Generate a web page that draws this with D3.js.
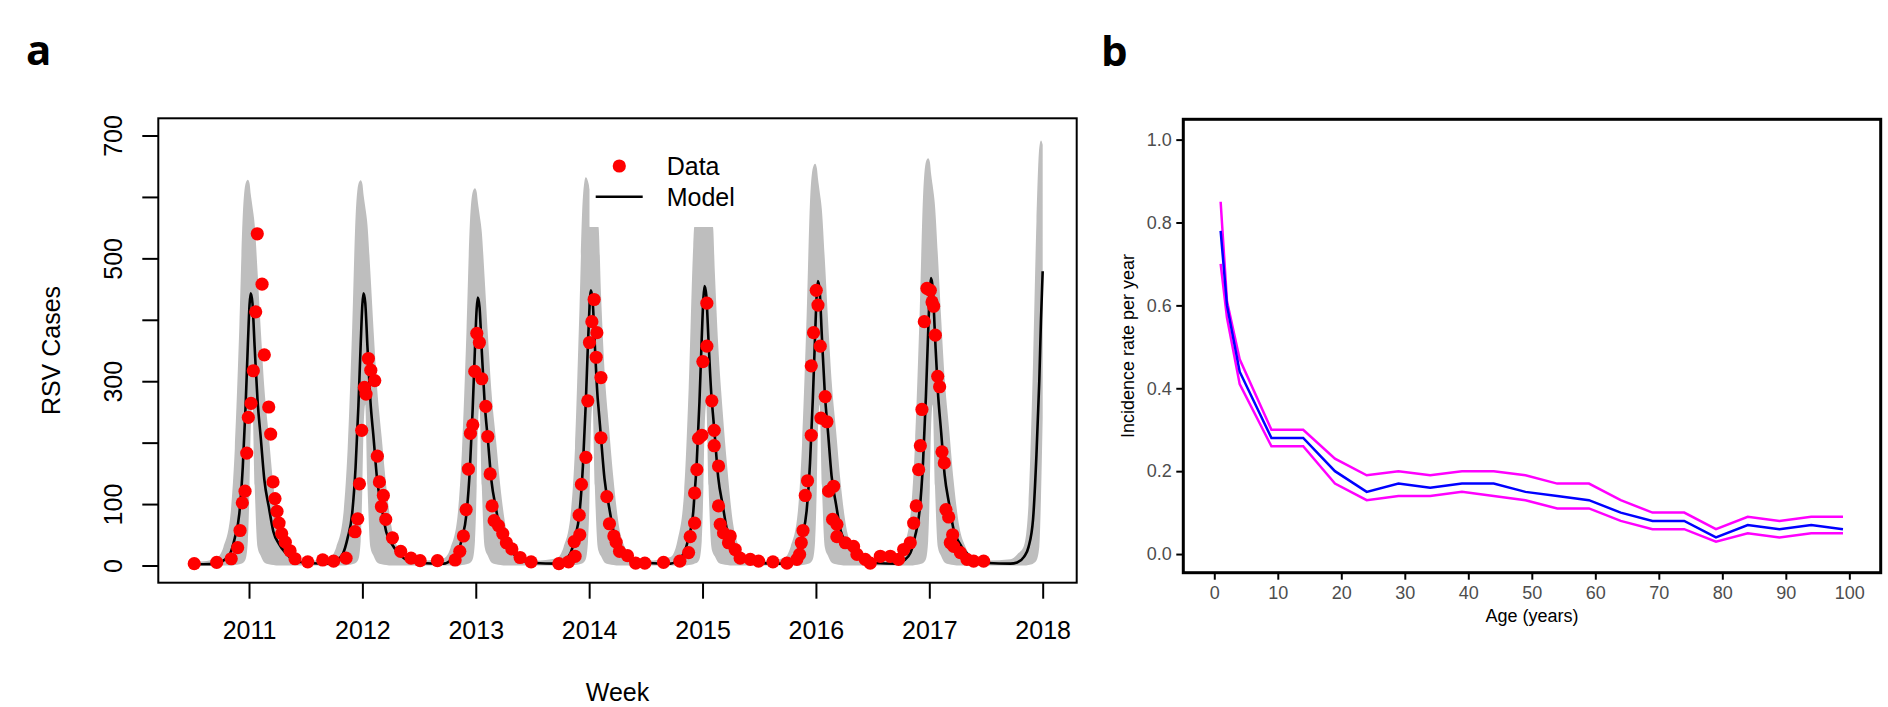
<!DOCTYPE html>
<html><head><meta charset="utf-8">
<script src="https://cdn.jsdelivr.net/npm/d3@7"></script>
<style>
html,body{margin:0;padding:0;background:#fff;}
svg{display:block;}
</style></head><body>
<svg id="chart" width="1888" height="707"></svg>
<script>
// ---------------- Panel a data ----------------
const yearTicks = [2011, 2012, 2013, 2014, 2015, 2016, 2017, 2018];
const caseTicks = [0, 100, 200, 300, 400, 500, 600, 700];
const caseTickLabels = [0, 100, 300, 500, 700];

// model time grid (decimal years)
const modelT = [
  2010.51, 2010.60, 2010.715, 2010.775, 2010.835, 2010.875, 2010.915, 2010.945, 2010.970, 2010.990, 2011.005, 2011.015, 2011.030, 2011.050, 2011.075, 2011.105, 2011.135, 2011.175, 2011.215, 2011.265, 2011.315, 2011.395, 2011.515,
  2011.710, 2011.770, 2011.830, 2011.870, 2011.910, 2011.940, 2011.965, 2011.985, 2012.000, 2012.010, 2012.025, 2012.045, 2012.070, 2012.100, 2012.130, 2012.170, 2012.210, 2012.260, 2012.310, 2012.390, 2012.510,
  2012.718, 2012.778, 2012.838, 2012.878, 2012.918, 2012.948, 2012.973, 2012.993, 2013.008, 2013.018, 2013.033, 2013.053, 2013.078, 2013.108, 2013.138, 2013.178, 2013.218, 2013.268, 2013.318, 2013.398, 2013.518,
  2013.715, 2013.775, 2013.835, 2013.875, 2013.915, 2013.945, 2013.970, 2013.990, 2014.003, 2014.005, 2014.015, 2014.030, 2014.050, 2014.075, 2014.082, 2014.105, 2014.135, 2014.175, 2014.215, 2014.265, 2014.315, 2014.395, 2014.515,
  2014.718, 2014.778, 2014.838, 2014.878, 2014.918, 2014.927, 2014.948, 2014.973, 2014.993, 2015.008, 2015.018, 2015.033, 2015.053, 2015.078, 2015.092, 2015.108, 2015.138, 2015.178, 2015.218, 2015.268, 2015.318, 2015.398, 2015.518,
  2015.718, 2015.778, 2015.838, 2015.878, 2015.918, 2015.948, 2015.973, 2015.993, 2016.008, 2016.018, 2016.033, 2016.053, 2016.078, 2016.108, 2016.138, 2016.178, 2016.218, 2016.268, 2016.318, 2016.398, 2016.518,
  2016.715, 2016.775, 2016.835, 2016.875, 2016.915, 2016.945, 2016.970, 2016.990, 2017.005, 2017.015, 2017.030, 2017.050, 2017.075, 2017.105, 2017.135, 2017.175, 2017.215, 2017.265, 2017.315, 2017.395, 2017.515,
  2017.715, 2017.775, 2017.835, 2017.875, 2017.915, 2017.945, 2017.970, 2017.985, 2018.000
];
const modelCases = [
  2, 2, 3, 8, 20, 45, 85, 160, 260, 360, 425, 443, 428, 355, 270, 205, 140, 95, 55, 35, 22, 9, 4,
  3, 8, 20, 45, 85, 160, 260, 360, 425, 443, 428, 355, 270, 205, 140, 95, 55, 35, 22, 9, 4,
  3, 8, 20, 44, 84, 157, 256, 354, 418, 436, 421, 349, 266, 202, 138, 93, 54, 34, 22, 9, 4,
  3, 8, 20, 45, 86, 162, 263, 364, 420, 430, 448, 433, 359, 273, 258, 207, 142, 96, 56, 35, 22, 9, 4,
  3, 8, 21, 46, 87, 110, 164, 267, 370, 436, 455, 440, 365, 277, 246, 211, 144, 98, 56, 36, 23, 9, 4,
  3, 8, 21, 47, 89, 167, 272, 376, 444, 463, 447, 371, 282, 214, 146, 99, 57, 37, 23, 9, 4,
  3, 8, 21, 48, 90, 169, 275, 380, 449, 468, 452, 375, 285, 216, 148, 100, 58, 37, 23, 10, 4,
  3, 5, 14, 30, 75, 180, 300, 400, 479
];
const bandHigh = [
  6, 7, 12, 30, 80, 191, 390, 570, 622, 628, 622, 605, 585, 555, 480, 380, 290, 210, 130, 60, 30, 12, 8,
  12, 30, 80, 190, 388, 568, 621, 627, 621, 604, 584, 554, 479, 379, 289, 209, 130, 60, 30, 12, 8,
  12, 29, 78, 187, 381, 557, 608, 614, 608, 592, 572, 543, 469, 372, 284, 205, 127, 59, 29, 12, 8,
  12, 30, 80, 191, 420, 600, 632, 625, 612, 551, 551, 551, 551, 551, 551, 440, 320, 225, 140, 62, 30, 12, 8,
  14, 40, 120, 290, 520, 551, 551, 551, 551, 551, 551, 551, 551, 551, 551, 480, 360, 250, 160, 70, 32, 12, 8,
  12, 31, 83, 199, 406, 593, 647, 654, 647, 630, 609, 578, 500, 396, 302, 219, 135, 62, 31, 12, 8,
  13, 32, 84, 202, 412, 602, 657, 663, 657, 639, 618, 586, 507, 401, 306, 222, 137, 63, 32, 13, 8,
  10, 18, 32, 100, 330, 560, 680, 692, 685
];
const bandLow = [
  0, 0, 0, 0, 0, 1, 2, 4, 10, 40, 130, 220, 262, 130, 30, 15, 5, 2, 1, 0, 0, 0, 0,
  0, 0, 0, 1, 2, 4, 10, 40, 130, 220, 262, 130, 30, 15, 5, 2, 1, 0, 0, 0, 0,
  0, 0, 0, 1, 2, 4, 10, 40, 130, 220, 262, 130, 30, 15, 5, 2, 1, 0, 0, 0, 0,
  0, 0, 0, 1, 2, 4, 10, 40, 110, 130, 220, 262, 130, 30, 24, 15, 5, 2, 1, 0, 0, 0, 0,
  0, 0, 0, 1, 2, 3, 4, 10, 40, 130, 220, 262, 130, 30, 20, 15, 5, 2, 1, 0, 0, 0, 0,
  0, 0, 0, 1, 2, 4, 10, 40, 130, 220, 262, 130, 30, 15, 5, 2, 1, 0, 0, 0, 0,
  0, 0, 0, 1, 2, 4, 10, 40, 130, 220, 262, 130, 30, 15, 5, 2, 1, 0, 0, 0, 0,
  0, 0, 0, 1, 3, 8, 30, 110, 240
];

// observed weekly RSV cases
const dataT = [
  2010.517, 2010.715, 2010.843, 2010.900, 2010.921, 2010.941, 2010.965, 2010.980, 2010.994, 2011.018, 2011.038, 2011.059, 2011.073, 2011.115, 2011.135, 2011.174, 2011.191, 2011.212, 2011.229, 2011.247, 2011.265, 2011.288, 2011.320, 2011.362, 2011.406, 2011.518, 2011.650, 2011.746, 2011.856,
  2011.935, 2011.959, 2011.974, 2011.994, 2012.018, 2012.032, 2012.053, 2012.074, 2012.109, 2012.132, 2012.150, 2012.168, 2012.185, 2012.206, 2012.265, 2012.338, 2012.429, 2012.509, 2012.662, 2012.818,
  2012.859, 2012.891, 2012.915, 2012.935, 2012.953, 2012.974, 2012.991, 2013.009, 2013.032, 2013.053, 2013.088, 2013.106, 2013.127, 2013.144, 2013.162, 2013.200, 2013.238, 2013.270, 2013.318, 2013.391, 2013.488,
  2013.733, 2013.818, 2013.876, 2013.868, 2013.917, 2013.912, 2013.932, 2013.971, 2013.988, 2014.003, 2014.024, 2014.044, 2014.068, 2014.062, 2014.104, 2014.104, 2014.156, 2014.179, 2014.218, 2014.238, 2014.268, 2014.338, 2014.410, 2014.491, 2014.656, 2014.800,
  2014.877, 2014.891, 2014.930, 2014.930, 2014.950, 2014.965, 2014.994, 2015.003, 2015.038, 2015.038, 2015.082, 2015.103, 2015.103, 2015.141, 2015.141, 2015.156, 2015.185, 2015.229, 2015.244, 2015.288, 2015.332, 2015.421, 2015.494, 2015.621, 2015.744,
  2015.832, 2015.856, 2015.871, 2015.886, 2015.906, 2015.926, 2015.959, 2015.959, 2015.979, 2016.003, 2016.018, 2016.038, 2016.044, 2016.082, 2016.097, 2016.112, 2016.156, 2016.147, 2016.185, 2016.185, 2016.259, 2016.332, 2016.362, 2016.435, 2016.479, 2016.568, 2016.656, 2016.729,
  2016.774, 2016.832, 2016.862, 2016.885, 2016.906, 2016.921, 2016.935, 2016.956, 2016.979, 2017.009, 2017.024, 2017.038, 2017.053, 2017.074, 2017.091, 2017.112, 2017.132, 2017.147, 2017.171, 2017.185, 2017.206, 2017.215, 2017.274, 2017.332, 2017.391, 2017.479
];
const dataCases = [
  3, 5, 11, 29, 57, 102, 121, 183, 241, 264, 317, 413, 540, 458, 343, 258, 214, 136, 109, 88, 69, 52, 38, 24, 11, 6, 9, 7, 12,
  55, 76, 133, 220, 290, 279, 337, 318, 301, 178, 136, 96, 114, 75, 45, 23, 12, 8, 8, 9,
  23, 48, 91, 157, 215, 229, 316, 378, 363, 304, 259, 210, 149, 97, 73, 65, 52, 37, 27, 13, 6,
  3, 6, 15, 39, 50, 82, 132, 176, 268, 363, 397, 433, 379, 339, 306, 208, 112, 68, 48, 38, 23, 16, 4, 4, 5, 7,
  21, 47, 69, 118, 156, 207, 212, 332, 357, 427, 268, 220, 195, 162, 97, 67, 53, 37, 48, 26, 12, 10, 7, 6, 4,
  10, 18, 37, 57, 114, 138, 212, 325, 379, 448, 424, 357, 240, 275, 234, 121, 129, 75, 67, 47, 37, 31, 18, 10, 4, 15, 15, 10,
  26, 37, 69, 97, 156, 195, 254, 397, 451, 448, 429, 422, 375, 308, 291, 185, 167, 91, 79, 37, 50, 31, 21, 10, 7, 7
];

// ---------------- Panel b data ----------------
const ages = [1, 2, 4, 9, 14, 19, 24, 29, 34, 39, 44, 49, 54, 59, 64, 69, 74, 79, 84, 89, 94, 99];
const rateMean  = [0.78, 0.60, 0.44, 0.28, 0.28, 0.20, 0.15, 0.17, 0.16, 0.17, 0.17, 0.15, 0.14, 0.13, 0.10, 0.08, 0.08, 0.04, 0.07, 0.06, 0.07, 0.06];
const rateUpper = [0.85, 0.61, 0.47, 0.30, 0.30, 0.23, 0.19, 0.20, 0.19, 0.20, 0.20, 0.19, 0.17, 0.17, 0.13, 0.10, 0.10, 0.06, 0.09, 0.08, 0.09, 0.09];
const rateLower = [0.70, 0.57, 0.41, 0.26, 0.26, 0.17, 0.13, 0.14, 0.14, 0.15, 0.14, 0.13, 0.11, 0.11, 0.08, 0.06, 0.06, 0.03, 0.05, 0.04, 0.05, 0.05];
const ageTicks = [0, 10, 20, 30, 40, 50, 60, 70, 80, 90, 100];
const rateTicks = [0, 0.2, 0.4, 0.6, 0.8, 1.0];

// ---------------- Drawing ----------------
const FONT = "'Liberation Sans', Arial, Helvetica, sans-serif";
const svg = d3.select("#chart");

const A = {left: 158.3, right: 1076.7, top: 118.3, bottom: 582.7};
const B = {left: 1183.3, right: 1880.7, top: 119.3, bottom: 572.7};

// ---- Panel a
const xA = d3.scaleLinear().domain([2010.2, 2018.3]).range([A.left, A.right]);
const yA = d3.scaleLinear().domain([-28, 728]).range([A.bottom, A.top]);

const modelRows = modelT.map((t, i) => ({t: t, m: modelCases[i], hi: bandHigh[i], lo: bandLow[i]}));
const gA = svg.append("g");

gA.append("path").datum(modelRows)
  .attr("d", d3.area().x(d => xA(d.t)).y0(d => yA(d.lo)).y1(d => yA(d.hi)).curve(d3.curveMonotoneX))
  .attr("fill", "#BEBEBE").attr("stroke", "none");

gA.append("path").datum(modelRows)
  .attr("d", d3.line().x(d => xA(d.t)).y(d => yA(d.m)).curve(d3.curveMonotoneX))
  .attr("fill", "none").attr("stroke", "#000").attr("stroke-width", 2.6).attr("stroke-linejoin", "round");

gA.append("g").selectAll("circle").data(dataT.map((t, i) => ({t: t, v: dataCases[i]})))
  .join("circle")
  .attr("cx", d => xA(d.t)).attr("cy", d => yA(d.v)).attr("r", 6.6).attr("fill", "#FF0000");

gA.append("rect").attr("x", A.left).attr("y", A.top)
  .attr("width", A.right - A.left).attr("height", A.bottom - A.top)
  .attr("fill", "none").attr("stroke", "#000").attr("stroke-width", 2);

const gxA = gA.append("g").attr("transform", `translate(0,${A.bottom})`)
  .call(d3.axisBottom(xA).tickValues(yearTicks).tickSize(16).tickPadding(23).tickFormat(d3.format("d")));
gxA.select(".domain").remove();
gxA.attr("font-size", 25).attr("font-family", FONT);
gxA.selectAll(".tick line").attr("stroke-width", 2);
gxA.selectAll(".tick text").attr("fill", "#000");

const gyA = gA.append("g").attr("transform", `translate(${A.left},0)`)
  .call(d3.axisLeft(yA).tickValues(caseTicks).tickSize(16)
    .tickFormat(d => caseTickLabels.includes(d) ? String(d) : ""));
gyA.select(".domain").remove();
gyA.attr("font-size", 25).attr("font-family", FONT);
gyA.selectAll(".tick line").attr("stroke-width", 2);
gyA.selectAll(".tick text")
  .attr("transform", "rotate(-90)").attr("x", 0).attr("y", -36).attr("dy", 0)
  .attr("text-anchor", "middle").attr("fill", "#000");

gA.append("text").attr("transform", "translate(60,350.5) rotate(-90)")
  .attr("text-anchor", "middle").attr("font-family", FONT).attr("font-size", 25).text("RSV Cases");
gA.append("text").attr("x", (A.left + A.right) / 2).attr("y", 701)
  .attr("text-anchor", "middle").attr("font-family", FONT).attr("font-size", 25).text("Week");

// legend
const lg = gA.append("g");
lg.append("circle").attr("cx", 619.3).attr("cy", 166).attr("r", 6.6).attr("fill", "#FF0000");
lg.append("line").attr("x1", 595.7).attr("x2", 642.7).attr("y1", 196.7).attr("y2", 196.7)
  .attr("stroke", "#000").attr("stroke-width", 2.6);
lg.append("text").attr("x", 666.7).attr("y", 175).attr("font-family", FONT).attr("font-size", 25).text("Data");
lg.append("text").attr("x", 666.7).attr("y", 205.7).attr("font-family", FONT).attr("font-size", 25).text("Model");

// ---- Panel b
const xB = d3.scaleLinear().domain([-4.88, 104.94]).range([B.left, B.right]);
const yB = d3.scaleLinear().domain([-0.045, 1.049]).range([B.bottom, B.top]);
const gB = svg.append("g");

const lineB = (vals) => d3.line().x((d, i) => xB(ages[i])).y(d => yB(d))(vals);
gB.append("path").attr("d", lineB(rateUpper)).attr("fill", "none").attr("stroke", "#FF00FF").attr("stroke-width", 2.5);
gB.append("path").attr("d", lineB(rateLower)).attr("fill", "none").attr("stroke", "#FF00FF").attr("stroke-width", 2.5);
gB.append("path").attr("d", lineB(rateMean)).attr("fill", "none").attr("stroke", "#0000FF").attr("stroke-width", 2.5);

gB.append("rect").attr("x", B.left).attr("y", B.top)
  .attr("width", B.right - B.left).attr("height", B.bottom - B.top)
  .attr("fill", "none").attr("stroke", "#000").attr("stroke-width", 3);

const gxB = gB.append("g").attr("transform", `translate(0,${B.bottom})`)
  .call(d3.axisBottom(xB).tickValues(ageTicks).tickSize(7).tickPadding(7).tickFormat(d3.format("d")));
gxB.select(".domain").remove();
gxB.attr("font-size", 18).attr("font-family", FONT);
gxB.selectAll(".tick line").attr("stroke-width", 2);
gxB.selectAll(".tick text").attr("fill", "#4D4D4D");

const gyB = gB.append("g").attr("transform", `translate(${B.left},0)`)
  .call(d3.axisLeft(yB).tickValues(rateTicks).tickSize(7).tickPadding(4.5).tickFormat(d3.format(".1f")));
gyB.select(".domain").remove();
gyB.attr("font-size", 18).attr("font-family", FONT);
gyB.selectAll(".tick line").attr("stroke-width", 2);
gyB.selectAll(".tick text").attr("fill", "#4D4D4D");

gB.append("text").attr("x", (B.left + B.right) / 2).attr("y", 621.6)
  .attr("text-anchor", "middle").attr("font-family", FONT).attr("font-size", 18).text("Age (years)");
gB.append("text").attr("transform", `translate(1134,${(B.top + B.bottom) / 2}) rotate(-90)`)
  .attr("text-anchor", "middle").attr("font-family", FONT).attr("font-size", 18).text("Incidence rate per year");

// panel letters
svg.append("text").attr("x", 26).attr("y", 65).attr("font-family", "'Open Sans', 'Noto Sans', sans-serif")
  .attr("font-weight", 700).attr("font-size", 42).text("a");
svg.append("text").attr("x", 1101).attr("y", 66).attr("font-family", "'Open Sans', 'Noto Sans', sans-serif")
  .attr("font-weight", 700).attr("font-size", 42).text("b");
</script></body></html>
